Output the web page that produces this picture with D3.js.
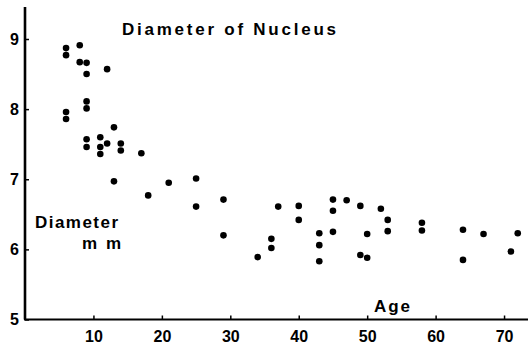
<!DOCTYPE html>
<html lang="en">
<head>
    <meta charset="UTF-8">
    <script src="https://d3js.org/d3.v7.min.js"></script>
    <style>
        body { margin: 0; background: #fff; }
        text { font-family: "Liberation Sans", Arial, sans-serif; font-weight: bold; fill: #000; }
    </style>
</head>
<body>
    <div id="chart"></div>
    <script>
        // age (years) and nucleus diameter (mm)
        var ages = [6, 6, 8, 8, 9, 9, 12, 6, 6, 9, 9, 9, 9, 11, 11, 11, 12, 13, 13, 14, 14, 17, 18, 21,
            25, 25, 29, 29, 34, 36, 36, 37, 40, 40, 43, 43, 43, 45, 45, 45, 47, 49, 50, 49, 50,
            52, 53, 53, 58, 58, 64, 64, 67, 71, 72];
        var diameters = [8.87, 8.77, 8.91, 8.67, 8.66, 8.5, 8.57, 7.96, 7.86, 8.11, 8.01, 7.57, 7.46, 7.6, 7.46, 7.36, 7.51, 7.74, 6.97, 7.51, 7.41, 7.37, 6.77, 6.95,
            7.01, 6.61, 6.71, 6.2, 5.89, 6.15, 6.02, 6.61, 6.62, 6.42, 6.23, 6.06, 5.83, 6.71, 6.55, 6.25, 6.7, 6.62, 6.22, 5.92, 5.88,
            6.58, 6.42, 6.26, 6.38, 6.27, 6.28, 5.85, 6.22, 5.97, 6.23];
        var xTicks = [10, 20, 30, 40, 50, 60, 70];
        var yTicks = [5, 6, 7, 8, 9];

        var width = 530, height = 343;
        var svg = d3.select("#chart").append("svg")
            .attr("width", width).attr("height", height);

        var x = d3.scaleLinear().domain([0, 73.5]).range([25, 528]);
        var y = d3.scaleLinear().domain([5, 9]).range([319.5, 39]);

        // axes
        var xAxis = svg.append("g").attr("transform", "translate(0," + y(5) + ")")
            .call(d3.axisBottom(x).tickValues(xTicks).tickFormat(d3.format("d"))
                .tickSizeInner(-4).tickSizeOuter(0).tickPadding(10));
        var yAxis = svg.append("g").attr("transform", "translate(" + x(0) + ",0)")
            .call(d3.axisLeft(y).tickValues(yTicks).tickFormat(d3.format("d"))
                .tickSizeInner(-4).tickSizeOuter(0).tickPadding(7));

        xAxis.select(".domain").attr("stroke-width", 2.2).attr("d", "M" + (x(0) - 1) + ",0H" + x(73.5));
        yAxis.select(".domain").attr("stroke-width", 2.6).attr("d", "M0," + y(5) + "V7");
        svg.selectAll(".tick line").attr("stroke-width", 1.5);
        xAxis.selectAll(".tick text").style("font-size", "16px").attr("dy", "0.75em");
        yAxis.selectAll(".tick text").style("font-size", "16px").attr("x", -6).attr("text-anchor", "end");

        // points
        svg.append("g").selectAll("circle")
            .data(ages.map(function (a, i) { return { age: a, dia: diameters[i] }; }))
            .enter().append("circle")
            .attr("cx", function (d) { return x(d.age); })
            .attr("cy", function (d) { return y(d.dia); })
            .attr("r", 3.3)
            .attr("fill", "#000");

        // labels
        svg.append("text").attr("x", 122).attr("y", 35)
            .attr("textLength", 214).attr("lengthAdjust", "spacing")
            .style("font-size", "17px")
            .text("Diameter  of  Nucleus");
        svg.append("text").attr("x", 35).attr("y", 228).style("font-size", "17px")
            .attr("textLength", 83).attr("lengthAdjust", "spacing").text("Diameter");
        svg.append("text").attr("x", 82).attr("y", 249).style("font-size", "17px")
            .attr("textLength", 39).attr("lengthAdjust", "spacing").text("mm");
        svg.append("text").attr("x", 374).attr("y", 312).style("font-size", "17px")
            .attr("textLength", 36).attr("lengthAdjust", "spacing").text("Age");
    </script>
</body>
</html>
